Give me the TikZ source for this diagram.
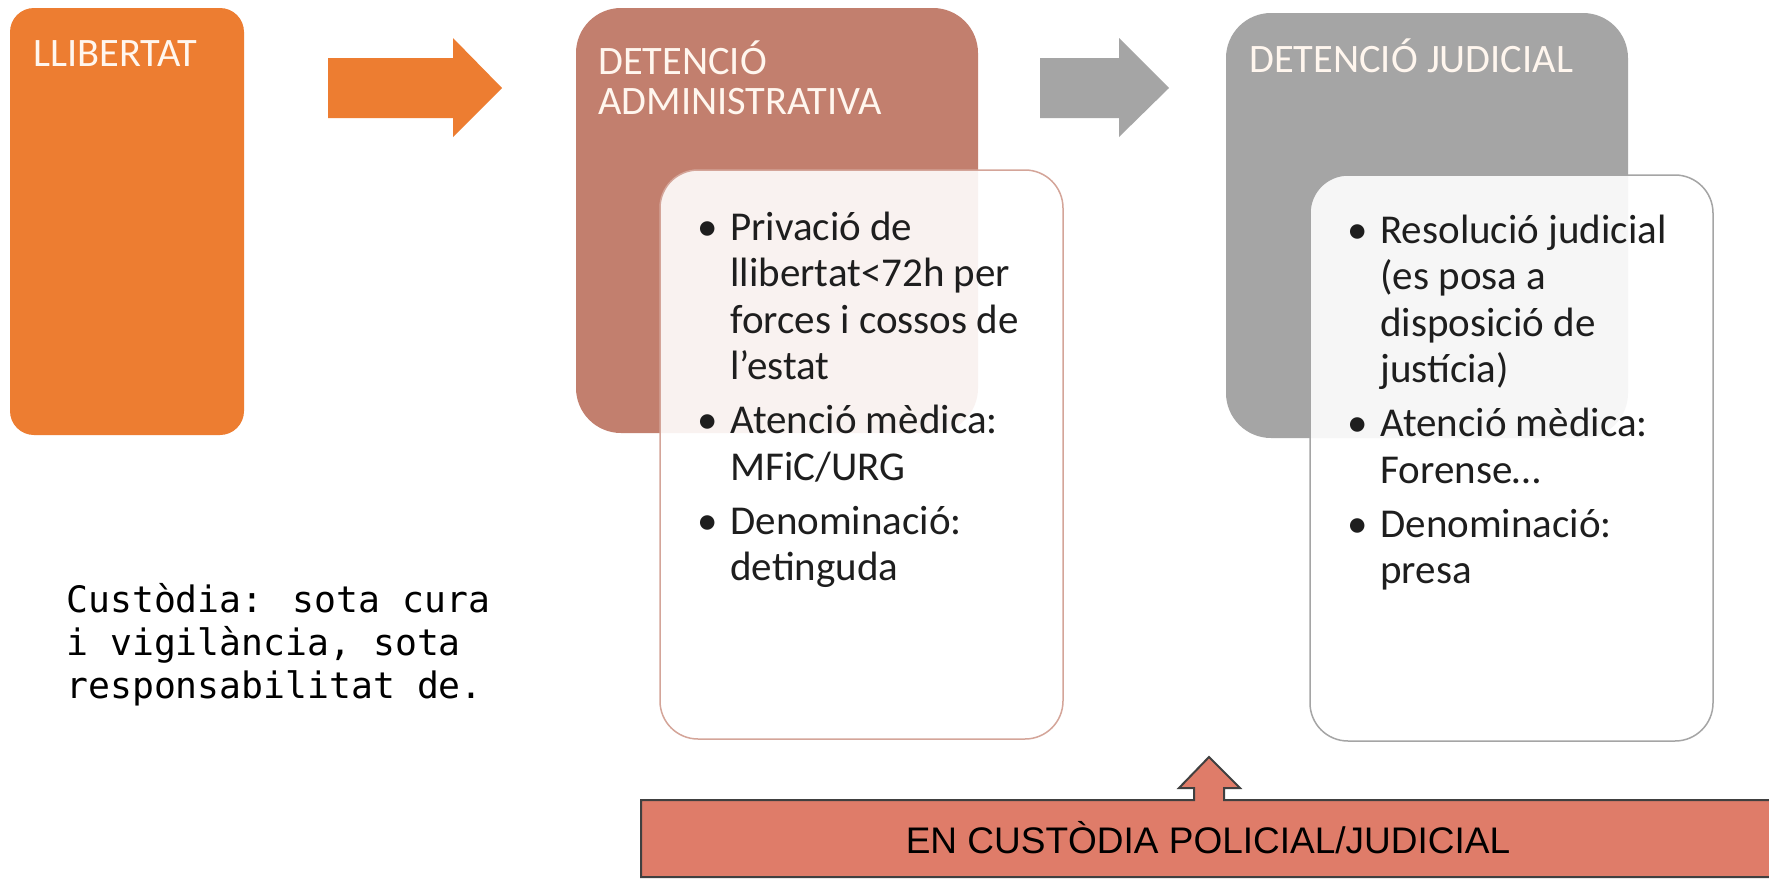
\documentclass[tikz,border=0pt]{standalone}
\usepackage{fontspec}
\setmainfont{Carlito}
\newfontfamily\monofont{DejaVu Sans Mono}
\newfontfamily\arialfont{Liberation Sans}
\usepackage{tikz}
\usetikzlibrary{positioning}
\definecolor{libcol}{HTML}{ED7D31}
\definecolor{admcol}{HTML}{C27F6E}
\definecolor{judcol}{HTML}{A5A5A5}
\definecolor{custcol}{HTML}{DF7C69}
\definecolor{edgecol}{HTML}{404040}
\definecolor{titlecol}{HTML}{FFF6EE}
\definecolor{bodycol}{HTML}{1E1E1E}
\newcommand{\bul}{\makebox[16.5pt][l]{•}}
\newcommand{\ind}{\hspace*{16.5pt}}
\tikzset{
  stagebox/.style={inner sep=0pt, minimum width=201pt, minimum height=212.5pt, rounded corners=22.5pt},
  listbox/.style={inner sep=0pt, minimum width=201.5pt, rounded corners=19pt, fill=white, fill opacity=0.9, line width=0.75pt},
  stagetitle/.style={anchor=base west, inner sep=0pt, text=titlecol, align=left, font=\fontsize{20.2}{20}\selectfont},
  stagelist/.style={anchor=base west, inner sep=0pt, text=bodycol, align=left, font=\fontsize{20.5}{23.25}\selectfont},
}

\begin{document}
\begin{tikzpicture}[x=0.5pt,y=-0.5pt]
\useasboundingbox (0,0) rectangle (1769,879);
\clip (0,0) rectangle (1769,879);
\fill[white] (0,0) rectangle (1769,879);

\node (lib) [stagebox, minimum width=117pt, minimum height=213.5pt, rounded corners=12pt, fill=libcol] at (127,221.5) {};
\node (adm) [stagebox, fill=admcol] at (777,220.5) {};
\node (jud) [stagebox, fill=judcol] at (1427,225.5) {};

\fill[libcol] (328,58) -- (453,58) -- (453,38) -- (502,88) -- (453,137) -- (453,118) -- (328,118) -- cycle;
\fill[judcol] (1040,58) -- (1119,58) -- (1119,38) -- (1169,88) -- (1119,137) -- (1119,118) -- (1040,118) -- cycle;

\node (admtxt) [listbox, draw=admcol!70, minimum height=284.5pt] at (861.5,454.5) {};
\node (judtxt) [listbox, draw=judcol, minimum height=283pt] at (1511.5,458) {};

% base anchor of a multi-line node sits on its last line
\node (libtitle) [stagetitle] at (33,66) {LLIBERTAT};
\node (admtitle) [stagetitle] at (598,114) {DETENCIÓ\\ADMINISTRATIVA};
\node (judtitle) [stagetitle] at (1249,72) {DETENCIÓ JUDICIAL};

\node (admlist) [stagelist] at (697,580.5) {\bul Privació de\\ \ind llibertat<72h per\\ \ind forces i cossos de\\ \ind l’estat\\[3.75pt]
  \bul Atenció mèdica:\\ \ind MFiC/URG\\[3.75pt] \bul Denominació:\\ \ind detinguda};
\node (judlist) [stagelist] at (1347,583.5) {\bul Resolució judicial\\ \ind (es posa a\\ \ind disposició de\\ \ind justícia)\\[3.75pt]
  \bul Atenció mèdica:\\ \ind Forense…\\[3.75pt] \bul Denominació:\\ \ind presa};

\node (custnote) [anchor=base west, inner sep=0pt, align=left, font=\monofont\fontsize{18.2}{21.5}\selectfont] at (66,698)
  {Custòdia: sota cura\\i vigilància, sota\\responsabilitat de.};

\draw[edgecol, fill=custcol, line width=1pt] (641,800) -- (1194,800) -- (1194,788) -- (1179,788) -- (1209,757) -- (1240,788)
  -- (1224,788) -- (1224,800) -- (1790,800) -- (1790,877) -- (641,877) -- cycle;
\node (custbar) [anchor=base, inner sep=0pt, font=\arialfont\fontsize{18.5}{20}\selectfont] at (1208,853) {EN CUSTÒDIA POLICIAL/JUDICIAL};
\end{tikzpicture}
\end{document}
